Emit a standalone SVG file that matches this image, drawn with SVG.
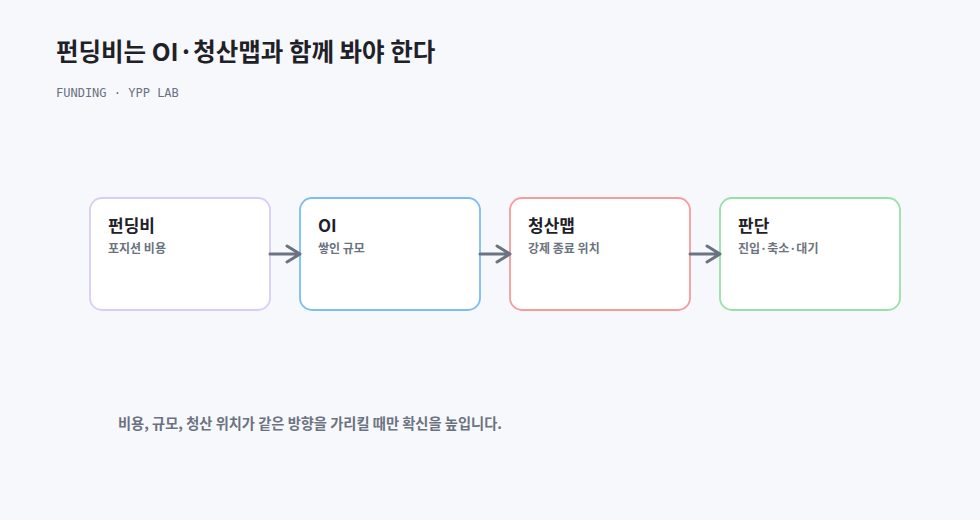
<svg xmlns="http://www.w3.org/2000/svg" width="980" height="520" viewBox="0 0 980 520">
<style>
.ko{font-family:"Noto Sans CJK KR","Noto Sans",sans-serif}
.title{font-size:24.5px;font-weight:700;fill:#1f2128}
.sub{font-family:"DejaVu Sans Mono","Liberation Mono",monospace;font-size:12px;fill:#6b7280}
.box{fill:#ffffff;stroke-width:1.8}
.nt{font-size:17px;font-weight:700;fill:#1f2128}
.ns{font-size:12px;font-weight:700;fill:#6b7280}
.foot{font-size:14.25px;font-weight:700;fill:#6b7280}
.conn{stroke:#6b7280;stroke-width:3;fill:none;stroke-linecap:round;stroke-linejoin:round}
</style>
<rect width="980" height="520" fill="#f7f8fc"/>
<text class="ko title" x="56" y="61">펀딩비는 OI·청산맵과 함께 봐야 한다</text>
<text class="sub" x="56" y="97">FUNDING · YPP LAB</text>
<g id="n1">
<rect class="box" x="90" y="198" width="180" height="112" rx="12" stroke="#d9cdf7"/>
<text class="ko nt" x="108" y="232">펀딩비</text>
<text class="ko ns" x="108" y="253">포지션 비용</text>
</g>
<g id="n2">
<rect class="box" x="300" y="198" width="180" height="112" rx="12" stroke="#7dbcf7"/>
<text class="ko nt" x="318" y="232">OI</text>
<text class="ko ns" x="318" y="253">쌓인 규모</text>
</g>
<g id="n3">
<rect class="box" x="510" y="198" width="180" height="112" rx="12" stroke="#f89b9b"/>
<text class="ko nt" x="528" y="232">청산맵</text>
<text class="ko ns" x="528" y="253">강제 종료 위치</text>
</g>
<g id="n4">
<rect class="box" x="720" y="198" width="180" height="112" rx="12" stroke="#98e0a9"/>
<text class="ko nt" x="738" y="232">판단</text>
<text class="ko ns" x="738" y="253">진입·축소·대기</text>
</g>
<g id="connectors">
<path class="conn" d="M270 254H300M287 246L300 254L287 262"/>
<path class="conn" d="M480 254H510M497 246L510 254L497 262"/>
<path class="conn" d="M690 254H720M707 246L720 254L707 262"/>
</g>
<text class="ko foot" x="118" y="429">비용, 규모, 청산 위치가 같은 방향을 가리킬 때만 확신을 높입니다.</text>
</svg>
